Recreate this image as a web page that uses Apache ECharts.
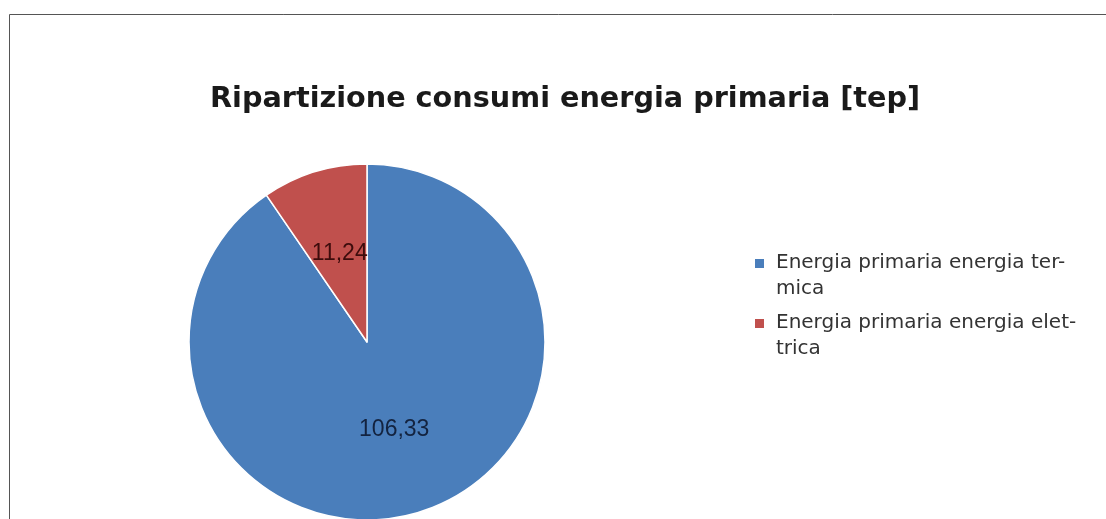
<!DOCTYPE html>
<html>
<head>
<meta charset="utf-8">
<script src="https://cdn.jsdelivr.net/npm/echarts@6/dist/echarts.min.js"></script>
<style>
  html, body { margin: 0; padding: 0; background: #ffffff; }
  #chart { width: 1106px; height: 519px; }
</style>
</head>
<body>
<div id="chart"></div>
<script>
// Primary energy consumption split, in tep
const categories = ['Energia primaria energia termica', 'Energia primaria energia elettrica'];
const values = [106.33, 11.24];
const legendLabels = ['Energia primaria energia ter-\nmica', 'Energia primaria energia elet-\ntrica'];
const colors = ['#4a7ebb', '#c0504d'];
const labelColors = ['#13233f', '#3d0c0c'];

// Legend swatch: a square near the top of a tall, otherwise empty box so it lines up with the first text line
const swatch = 'path://M0,0L16,0M0,9L9,9L9,18L0,18ZM0,52L16,52';

const chart = echarts.init(document.getElementById('chart'), null, { renderer: 'canvas' });

chart.setOption({
  backgroundColor: '#ffffff',
  animation: false,
  title: {
    text: 'Ripartizione consumi energia primaria [tep]',
    left: 205,
    top: 80,
    textStyle: {
      fontFamily: 'DejaVu Sans',
      fontWeight: 'bold',
      fontSize: 28.7,
      color: '#1a1a1a'
    }
  },
  legend: {
    orient: 'vertical',
    left: 750,
    top: 245,
    itemGap: 8,
    itemWidth: 16,
    itemHeight: 52,
    icon: swatch,
    itemStyle: { borderWidth: 0 },
    selectedMode: false,
    data: categories,
    formatter: function (name) {
      return legendLabels[categories.indexOf(name)];
    },
    textStyle: {
      fontFamily: 'DejaVu Sans',
      fontSize: 20,
      lineHeight: 26,
      color: '#333333'
    }
  },
  graphic: [{
    type: 'rect',
    shape: { x: 9.5, y: 14.5, width: 1200, height: 600 },
    style: { fill: 'none', stroke: '#555555', lineWidth: 1 },
    silent: true,
    z: -1
  }],
  series: [{
    type: 'pie',
    center: [367, 342],
    radius: 178,
    startAngle: 90,
    clockwise: true,
    avoidLabelOverlap: false,
    itemStyle: { borderColor: '#ffffff', borderWidth: 1.5 },
    emphasis: { disabled: true },
    label: {
      show: true,
      position: 'inside',
      fontFamily: 'Liberation Sans',
      fontSize: 23,
      formatter: function (p) {
        return p.value.toFixed(2).replace('.', ',');
      }
    },
    labelLine: { show: false },
    data: categories.map(function (name, i) {
      return {
        name: name,
        value: values[i],
        itemStyle: { color: colors[i] },
        label: { color: labelColors[i] }
      };
    })
  }]
});
</script>
</body>
</html>
